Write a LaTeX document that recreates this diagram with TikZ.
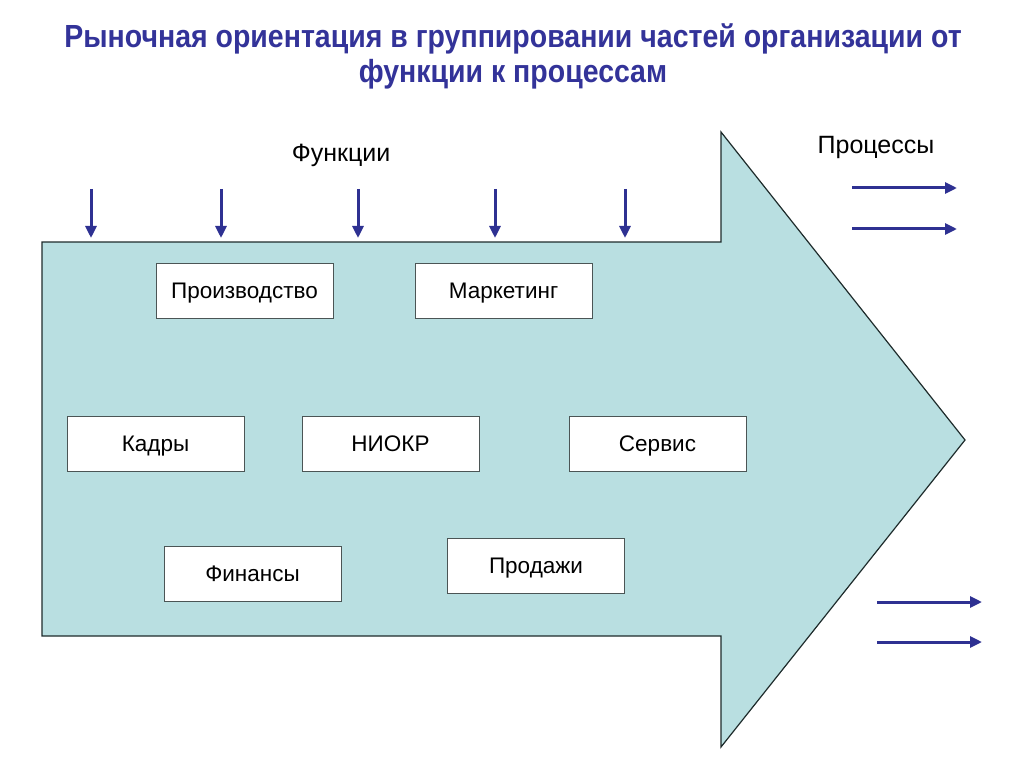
\documentclass[tikz,border=0pt]{standalone}
\usepackage{fontspec}
\setmainfont{Liberation Sans}
\usetikzlibrary{arrows.meta}
\definecolor{arrowfill}{HTML}{B9DFE1}
\definecolor{navy}{HTML}{2E3192}
\definecolor{titlec}{HTML}{333399}
\definecolor{edge}{HTML}{1E2B2B}
\tikzset{
  fbox/.style={draw=edge!80, line width=1pt, fill=white, minimum width=177pt, minimum height=55pt, font=\fontsize{22.5}{26}\selectfont, inner sep=0pt, text height=16pt, text depth=0pt},
  farrow/.style={draw=navy, line width=3pt, -{Triangle[length=12pt,width=11pt]}},
  ttl/.style={font=\bfseries\fontsize{32}{35}\selectfont, text=titlec, inner sep=0pt, align=center},
  lbl/.style={font=\fontsize{25}{30}\selectfont, inner sep=0pt}
}
\begin{document}
\begin{tikzpicture}[x=1pt,y=-1pt]
\useasboundingbox (0,0) rectangle (1024,767);
% big arrow
\draw[edge, line width=1.2pt, fill=arrowfill]
  (42,242) -- (721,242) -- (721,132) -- (965,440) -- (721,747) -- (721,636) -- (42,636) -- cycle;
% title
\node[ttl] (title) at (513,56) {\scalebox{0.89}[1]{Рыночная ориентация в группировании частей организации от}\\
  \scalebox{0.89}[1]{функции к процессам}};
% labels
\node[lbl] (fn) at (341,155) {Функции};
\node[lbl] (pr) at (876,147) {Процессы};
% boxes
\node[fbox] (b1) at (244.5,290.5) {Производство};
\node[fbox] (b2) at (503.5,290.5) {Маркетинг};
\node[fbox] (b3) at (155.5,443.5) {Кадры};
\node[fbox] (b4) at (390.5,443.5) {НИОКР};
\node[fbox] (b5) at (657.5,443.5) {Сервис};
\node[fbox] (b6) at (252.5,573.5) {Финансы};
\node[fbox] (b7) at (536,565.5) {Продажи};
% function arrows
\foreach \i/\x in {1/91,2/221,3/358,4/495,5/625}{
  \coordinate (ds\i) at (\x,189);
  \coordinate (de\i) at (\x,238);
  \draw[farrow] (ds\i) -- (de\i);
}
% process arrows
\coordinate (p1s) at (852,188); \coordinate (p1e) at (957,188);
\coordinate (p2s) at (852,229); \coordinate (p2e) at (957,229);
\coordinate (p3s) at (877,602); \coordinate (p3e) at (982,602);
\coordinate (p4s) at (877,642); \coordinate (p4e) at (982,642);
\draw[farrow] (p1s) -- (p1e);
\draw[farrow] (p2s) -- (p2e);
\draw[farrow] (p3s) -- (p3e);
\draw[farrow] (p4s) -- (p4e);
\end{tikzpicture}
\end{document}
